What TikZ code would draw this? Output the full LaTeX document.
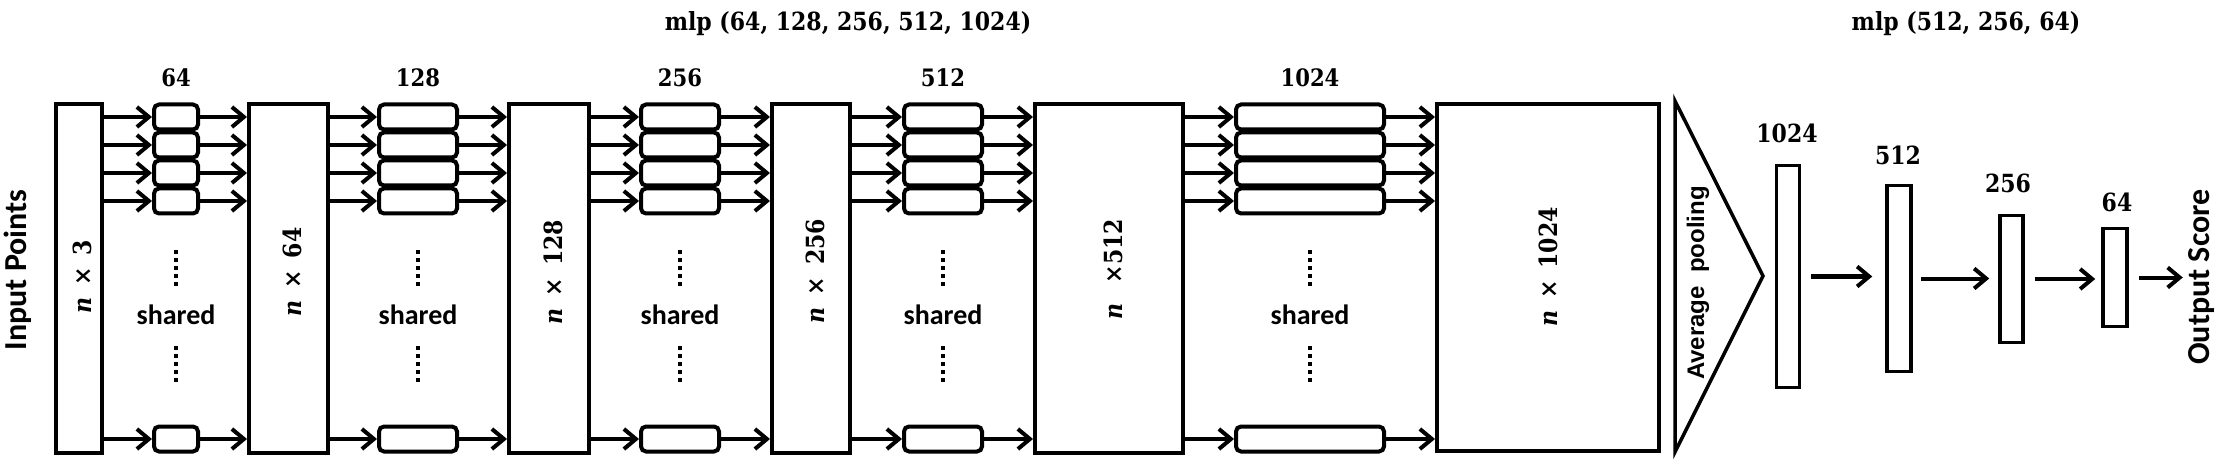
\documentclass[tikz,border=0pt]{standalone}
\usepackage{fontspec}
\setmainfont{DejaVu Serif}[FakeStretch=0.88]
\newfontfamily\sansb{Carlito}
\newfontfamily\arialb{Liberation Sans}
\usetikzlibrary{arrows.meta}
\tikzset{
  bigbox/.style={draw, line width=4pt, inner sep=0pt, minimum height=349pt},
  cell/.style={draw, line width=4pt, rounded corners=5pt, inner sep=0pt, minimum height=25pt},
  fcbox/.style={draw, line width=3.5pt, inner sep=0pt},
  arr/.style={line width=4pt, -{Straight Barb[length=12pt,width=20pt]}},
  dims/.style={font=\fontsize{25}{29}\selectfont\bfseries, rotate=90, inner sep=0pt},
  lab/.style={font=\fontsize{24}{28}\selectfont\bfseries, inner sep=0pt},
  mlpfont/.style={font=\fontsize{25}{29}\selectfont\bfseries, inner sep=0pt},
  fclab/.style={font=\fontsize{25}{29}\selectfont\bfseries, inner sep=0pt},
  sans/.style={font=\fontsize{28}{32}\selectfont\sansb\bfseries, inner sep=0pt},
  sansbig/.style={font=\fontsize{32}{36}\selectfont\sansb\bfseries, inner sep=0pt, rotate=90},
  avgfont/.style={font=\fontsize{24}{28}\selectfont\arialb\bfseries, inner sep=0pt, rotate=90},
  dots/.style={line width=4pt, dash pattern=on 4pt off 4pt},
}
\begin{document}
\begin{tikzpicture}[x=1pt,y=-1pt]
\useasboundingbox (0,0) rectangle (2226,470);

% big feature boxes
\node[bigbox, minimum width=46] (B1) at (79,278.5) {};
\node[bigbox, minimum width=79] (B2) at (288.5,278.5) {};
\node[bigbox, minimum width=80] (B3) at (549,278.5) {};
\node[bigbox, minimum width=78] (B4) at (811,278.5) {};
\node[bigbox, minimum width=148] (B5) at (1109,278.5) {};
\node[bigbox, minimum width=222, minimum height=347] (B6) at (1548,277.5) {};

\node[dims] (D1) at (82,277) {\textit{n}\hspace{12pt}×\hspace{12pt}3};
\node[dims] (D2) at (292,272) {\textit{n}\hspace{12pt}×\hspace{12pt}64};
\node[dims] (D3) at (553,272) {\textit{n}\hspace{12pt}×\hspace{12pt}128};
\node[dims] (D4) at (815,271) {\textit{n}\hspace{12pt}×\hspace{12pt}256};
\node[dims] (D5) at (1113,269) {\textit{n}\hspace{20pt}×512};
\node[dims] (D6) at (1548,267) {\textit{n}\hspace{12pt}×\hspace{12pt}1024};

% shared mlp columns
\foreach \k/\x/\w/\lab in {1/176/44/64, 2/418/78/128, 3/680/78/256, 4/943/78/512, 5/1310/148/1024} {
  \foreach \q/\y in {a/117, b/145, c/173, d/201, e/439} {
    \node[cell, minimum width=\w] (S\k\q) at (\x,\y) {};
  }
  \node[lab] (L\k) at (\x,78) {\lab};
  \draw[dots] (\x,250) -- (\x,286);
  \draw[dots] (\x,346) -- (\x,382);
  \node[sans] (sh\k) at (\x,315) {shared};
}

\foreach \k [evaluate=\k as \n using int(\k+1)] in {1,...,5} {
  \foreach \q in {a,b,c,d,e} {
    \draw[arr] (B\k.east |- S\k\q.west) -- (S\k\q.west);
    \draw[arr] (S\k\q.east) -- (B\n.west |- S\k\q.east);
  }
}

% average pooling
\coordinate (T1) at (1675,101);
\coordinate (T2) at (1675,452);
\coordinate (T3) at (1763,276);
\draw[line width=3.5pt] (T1) -- (T3) -- (T2) -- cycle;
\node[avgfont] (avg) at (1698,283) {Average\ \ pooling};

% fully connected layers
\node[fcbox, minimum width=23, minimum height=222] (F1) at (1788,276.5) {};
\node[fcbox, minimum width=24, minimum height=186] (F2) at (1899,278.5) {};
\node[fcbox, minimum width=23, minimum height=127] (F3) at (2011.5,279) {};
\node[fcbox, minimum width=24, minimum height=98] (F4) at (2115,277.5) {};
\node[fclab] (G1) at (1787,133) {1024};
\node[fclab] (G2) at (1898,155) {512};
\node[fclab] (G3) at (2008,183) {256};
\node[fclab] (G4) at (2117,202) {64};

\draw[arr, shorten <=10pt, shorten >=13pt] (F1.east) -- (F1.east -| F2.west);
\draw[arr, shorten <=8pt, shorten >=9pt] (F2.east) -- (F2.east -| F3.west);
\draw[arr, shorten <=10pt, shorten >=6pt] (F3.east) -- (F3.east -| F4.west);

\node[sansbig] (out) at (2201,277) {Output Score};
\draw[arr, shorten <=10pt, shorten >=5pt] (F4.east) -- (F4.east -| out.north);

\node[sansbig] (inp) at (18,270) {Input Points};

% titles
\node[mlpfont] (m1) at (848,24) {mlp (64, 128, 256, 512, 1024)};
\node[mlpfont] (m2) at (1966,24) {mlp (512, 256, 64)};
\end{tikzpicture}
\end{document}
